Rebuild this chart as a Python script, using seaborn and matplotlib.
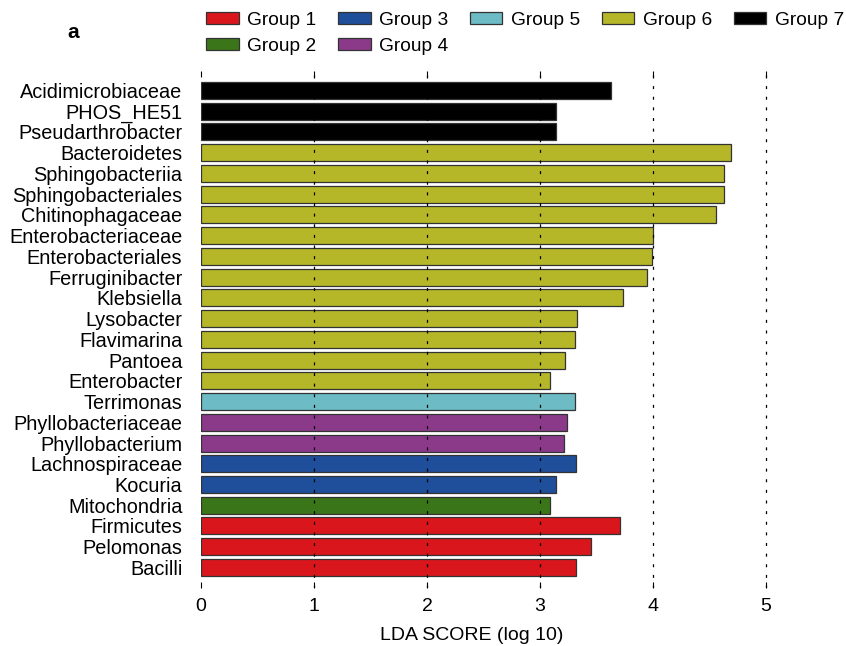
import matplotlib
matplotlib.use("Agg")
import matplotlib.pyplot as plt
from matplotlib.patches import Patch
import seaborn as sns
import pandas as pd

# ---- data ----
taxa = [
    "Acidimicrobiaceae", "PHOS_HE51", "Pseudarthrobacter", "Bacteroidetes",
    "Sphingobacteriia", "Sphingobacteriales", "Chitinophagaceae",
    "Enterobacteriaceae", "Enterobacteriales", "Ferruginibacter", "Klebsiella",
    "Lysobacter", "Flavimarina", "Pantoea", "Enterobacter", "Terrimonas",
    "Phyllobacteriaceae", "Phyllobacterium", "Lachnospiraceae", "Kocuria",
    "Mitochondria", "Firmicutes", "Pelomonas", "Bacilli",
]
lda_scores = [
    3.63, 3.14, 3.14, 4.69,
    4.63, 4.63, 4.555,
    3.995, 3.99, 3.95, 3.73,
    3.33, 3.31, 3.22, 3.085, 3.31,
    3.235, 3.215, 3.32, 3.14,
    3.09, 3.705, 3.45, 3.32,
]
group_of_taxon = [
    "Group 7", "Group 7", "Group 7", "Group 6",
    "Group 6", "Group 6", "Group 6",
    "Group 6", "Group 6", "Group 6", "Group 6",
    "Group 6", "Group 6", "Group 6", "Group 6", "Group 5",
    "Group 4", "Group 4", "Group 3", "Group 3",
    "Group 2", "Group 1", "Group 1", "Group 1",
]
groups = ["Group 1", "Group 2", "Group 3", "Group 4", "Group 5", "Group 6", "Group 7"]
group_colors = ["#D9161C", "#3A7619", "#1F4E9B", "#8B3A8A", "#6CBBC5", "#B5B729", "#000000"]
x_ticks = [0, 1, 2, 3, 4, 5]
x_label = "LDA SCORE (log 10)"
panel_label = "a"

df = pd.DataFrame({"taxon": taxa, "score": lda_scores, "group": group_of_taxon})
palette = dict(zip(groups, group_colors))

# ---- style ----
sns.set_style("white")
plt.rcParams["font.family"] = ["Liberation Sans", "DejaVu Sans"]
plt.rcParams["text.color"] = "black"
plt.rcParams["xtick.color"] = "black"
plt.rcParams["ytick.color"] = "black"
plt.rcParams["axes.labelcolor"] = "black"
FS = 14
LFS = 13.8

W, H = 846, 646
fig = plt.figure(figsize=(W / 100, H / 100), dpi=100)
ax = fig.add_axes([201 / W, 1 - 588 / H, 599 / W, 517 / H])

sns.barplot(
    data=df, x="score", y="taxon", hue="group", hue_order=groups,
    palette=palette, saturation=1, dodge=False, width=0.82, orient="h",
    edgecolor="#333333", linewidth=0.9, legend=False, ax=ax,
)

ax.set_xlim(0, 5.3)
ax.set_ylim(len(taxa) - 1 + 0.99, -0.94)
ax.set_xticks(x_ticks)
ax.set_xticklabels([str(t) for t in x_ticks])

for t in x_ticks[1:]:
    ax.axvline(t, color="black", lw=0.9, dashes=(2.4, 6.1), zorder=5)

for s in ax.spines.values():
    s.set_visible(False)

ax.tick_params(axis="x", which="both", top=True, bottom=True, direction="in",
               length=4.3, width=0.8, color="black", labelcolor="black",
               labelsize=FS, pad=7)
ax.tick_params(axis="y", length=0, labelsize=14.3, labelcolor="black", pad=13.5)
ax.set_ylabel("")
ax.set_xlabel(x_label, fontsize=FS, color="black")
ax.xaxis.set_label_coords((472 - 201) / 599, -(627 - 588) / 517)

fig.text(73 / W, 1 - 33 / H, panel_label, fontweight="bold", fontsize=15,
         ha="center", va="center", color="black")

handles = [Patch(facecolor=palette[g], edgecolor="#333333", linewidth=0.9) for g in groups]
fig.legend(handles, groups, ncol=5, loc="upper left",
           bbox_to_anchor=(206 / W, 1 - 12 / H), frameon=False, borderpad=0,
           borderaxespad=0, handlelength=1.7, handleheight=0.57,
           handletextpad=0.45, columnspacing=1.12, labelspacing=0.45, fontsize=LFS)

fig.savefig("out.png", dpi=100)
